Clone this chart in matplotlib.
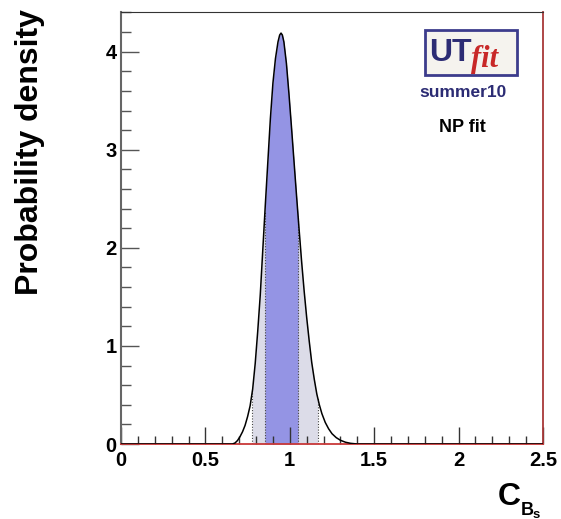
import numpy as np
import matplotlib
matplotlib.use("Agg")
import matplotlib.pyplot as plt
from matplotlib.patches import Rectangle

plt.rcParams["font.family"] = ["Liberation Sans", "DejaVu Sans"]

# curva de densidad
cb_x = [0.0, 0.60, 0.66, 0.675, 0.69, 0.705, 0.72, 0.735, 0.75, 0.765, 0.78,
        0.795, 0.81, 0.825, 0.84, 0.855, 0.87, 0.885, 0.90, 0.915, 0.93,
        0.94, 0.948, 0.956, 0.965, 0.98, 0.995, 1.01, 1.025, 1.04, 1.055,
        1.07, 1.085, 1.10, 1.115, 1.13, 1.145, 1.16, 1.175, 1.19, 1.21,
        1.23, 1.25, 1.275, 1.30, 1.33, 1.36, 1.40, 2.5]
dens = [0.0, 0.0, 0.0, 0.01, 0.035, 0.075, 0.125, 0.19, 0.28, 0.39, 0.56,
        0.82, 1.15, 1.52, 1.98, 2.44, 2.88, 3.32, 3.68, 3.93, 4.10,
        4.17, 4.19, 4.17, 4.10, 3.88, 3.57, 3.23, 2.88, 2.53, 2.19,
        1.86, 1.56, 1.29, 1.05, 0.83, 0.66, 0.51, 0.40, 0.31, 0.22,
        0.155, 0.105, 0.065, 0.038, 0.018, 0.007, 0.0, 0.0]

# intervalos 68% y 95%
int68 = (0.853, 1.049)
int95 = (0.778, 1.165)

xs = np.array(cb_x)
ys = np.array(dens)

fig = plt.figure(figsize=(5.61, 5.19), dpi=100)
ax = fig.add_axes([0.2157, 0.1445, 0.7522, 0.8324])

def band(lo, hi, color):
    xx = np.concatenate([[lo], xs[(xs > lo) & (xs < hi)], [hi]])
    yy = np.interp(xx, xs, ys)
    ax.fill_between(xx, 0, yy, color=color, lw=0, zorder=1)
    for v in (lo, hi):
        ax.plot([v, v], [0, np.interp(v, xs, ys)], color="#444444", lw=0.8,
                ls=(0, (1, 1.5)), zorder=2)

band(*int95, "#dcdce8")
band(*int68, "#9494e4")
ax.plot(xs, ys, color="black", lw=1.1, zorder=3)

ax.set_xlim(0, 2.5)
ax.set_ylim(0, 4.405)
ax.set_xticks([0, 0.5, 1, 1.5, 2, 2.5])
ax.set_xticklabels(["0", "0.5", "1", "1.5", "2", "2.5"])
ax.set_xticks(np.arange(0, 2.51, 0.1), minor=True)
ax.set_yticks([0, 1, 2, 3, 4])
ax.set_yticks(np.arange(0, 4.41, 0.2), minor=True)

for lab in ax.get_xticklabels() + ax.get_yticklabels():
    lab.set_fontweight("bold")
    lab.set_fontsize(14.5)

ax.tick_params(axis="x", which="major", direction="in", length=12, width=1,
               color="#333333", pad=5, top=False)
ax.tick_params(axis="x", which="minor", direction="in", length=6, width=1,
               color="#333333", top=False)
ax.tick_params(axis="y", which="major", direction="in", length=13, width=1,
               color="#555555", pad=3, right=False)
ax.tick_params(axis="y", which="minor", direction="in", length=7, width=1,
               color="#555555", right=False)

ax.spines["left"].set_color("#666666")
ax.spines["left"].set_linewidth(1.5)
ax.spines["top"].set_color("#333333")
ax.spines["right"].set_color("#a83838")
ax.spines["right"].set_linewidth(1.3)
ax.spines["bottom"].set_color("#c83838")
ax.spines["bottom"].set_linewidth(1.3)

fig.text(0.054, 1 - 152 / 519, "Probability density", rotation=90, ha="center",
         va="center", fontsize=23, fontweight="bold")

# etiqueta del eje x: C_{B_s}
fig.text(498 / 561, 1 - 505 / 519, "C", fontsize=23, fontweight="bold",
         ha="left", va="baseline")
fig.text(521 / 561, 1 - 515 / 519, "B", fontsize=13, fontweight="bold",
         ha="left", va="baseline")
fig.text(533 / 561, 1 - 517.5 / 519, "s", fontsize=9.5, fontweight="bold",
         ha="left", va="baseline")

# logo UTfit
logo = Rectangle((425 / 561, 1 - 75 / 519), 92 / 561, 45 / 519,
                 transform=fig.transFigure, facecolor="#f5f3ee",
                 edgecolor="#3c3c8c", lw=2)
fig.add_artist(logo)
fig.text(429 / 561, 1 - 53 / 519, "UT", fontsize=23, fontweight="bold",
         color="#2c2c74", ha="left", va="center")
fig.text(471 / 561, 1 - 60 / 519, "fit", fontsize=22, fontweight="bold",
         style="italic", family="Liberation Serif", color="#c82828",
         ha="left", va="center")
fig.text(463 / 561, 1 - 92 / 519, "summer10", fontsize=12.5, fontweight="bold",
         color="#2c2c74", ha="center", va="center")
fig.text(462 / 561, 1 - 127 / 519, "NP fit", fontsize=13, fontweight="bold",
         color="black", ha="center", va="center")

fig.savefig("out.png", dpi=100)
